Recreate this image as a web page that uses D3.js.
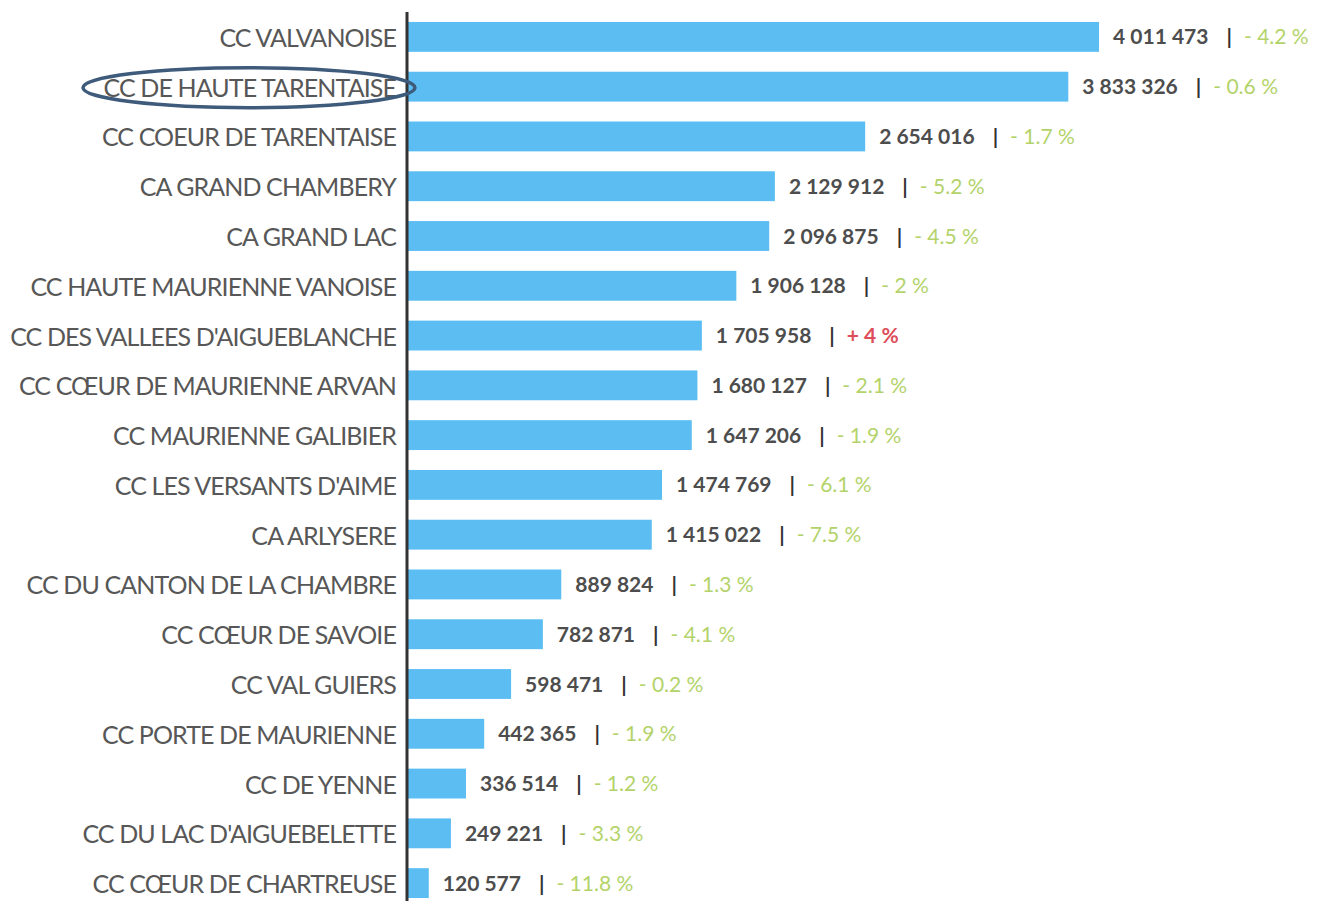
<!DOCTYPE html>
<html>
<head>
<meta charset="utf-8">
<script src="https://cdn.jsdelivr.net/npm/d3@7"></script>
<style>
  body { margin: 0; background: #fff; }
  svg { display: block; }
</style>
</head>
<body>
<div id="chart"></div>
<script>
// population / nuitees par intercommunalite, evolution en %
const categories = [
  "CC VALVANOISE",
  "CC DE HAUTE TARENTAISE",
  "CC COEUR DE TARENTAISE",
  "CA GRAND CHAMBERY",
  "CA GRAND LAC",
  "CC HAUTE MAURIENNE VANOISE",
  "CC DES VALLEES D'AIGUEBLANCHE",
  "CC CŒUR DE MAURIENNE ARVAN",
  "CC MAURIENNE GALIBIER",
  "CC LES VERSANTS D'AIME",
  "CA ARLYSERE",
  "CC DU CANTON DE LA CHAMBRE",
  "CC CŒUR DE SAVOIE",
  "CC VAL GUIERS",
  "CC PORTE DE MAURIENNE",
  "CC DE YENNE",
  "CC DU LAC D'AIGUEBELETTE",
  "CC CŒUR DE CHARTREUSE"
];
const values = [4011473, 3833326, 2654016, 2129912, 2096875, 1906128, 1705958, 1680127,
  1647206, 1474769, 1415022, 889824, 782871, 598471, 442365, 336514, 249221, 120577];
const changes = ["- 4.2 %", "- 0.6 %", "- 1.7 %", "- 5.2 %", "- 4.5 %", "- 2 %", "+ 4 %", "- 2.1 %",
  "- 1.9 %", "- 6.1 %", "- 7.5 %", "- 1.3 %", "- 4.1 %", "- 0.2 %", "- 1.9 %", "- 1.2 %", "- 3.3 %", "- 11.8 %"];
const highlighted = "CC DE HAUTE TARENTAISE";

const width = 1324;
const height = 901;
const axisX = 407;

const fmt = d => d3.format(",")(d).replace(/,/g, " ");

var svg = d3.select("#chart")
  .append("svg")
    .attr("width", width)
    .attr("height", height);

var x = d3.scaleLinear([0, d3.max(values)], [axisX + 1, 1099]);
var y = d3.scaleBand(categories, [12, 908])
  .paddingInner(0.4)
  .paddingOuter(0.2);

var rows = categories.map((c, i) => ({ name: c, value: values[i], change: changes[i] }));

// bars
svg.selectAll("rect.bar")
  .data(rows)
  .join("rect")
  .attr("class", "bar")
  .attr("x", x(0))
  .attr("y", d => y(d.name))
  .attr("width", d => x(d.value) - x(0))
  .attr("height", y.bandwidth())
  .attr("fill", "#5bbdf2");

// category labels
svg.selectAll("text.cat")
  .data(rows)
  .join("text")
  .attr("class", "cat")
  .attr("x", axisX - 11)
  .attr("y", d => y(d.name) + y.bandwidth() / 2 + 1)
  .attr("dy", "0.36em")
  .attr("text-anchor", "end")
  .style("font-family", "Lato, sans-serif")
  .style("font-size", "25px")
  .style("letter-spacing", "-0.9px")
  .attr("fill", "#575757")
  .text(d => d.name);

// value labels
var lab = svg.selectAll("text.val")
  .data(rows)
  .join("text")
  .attr("class", "val")
  .attr("x", d => x(d.value) + 14)
  .attr("y", d => y(d.name) + y.bandwidth() / 2)
  .attr("dy", "0.36em")
  .style("font-family", "Lato, sans-serif")
  .style("font-size", "21px")
  .style("font-weight", "bold");

lab.append("tspan")
  .attr("fill", "#4d4d4d")
  .text(d => fmt(d.value));
lab.append("tspan")
  .attr("dx", 18)
  .attr("fill", "#333")
  .text("|");
lab.append("tspan")
  .attr("dx", 12)
  .style("font-weight", d => d.change[0] == "+" ? "bold" : "normal")
  .attr("fill", d => d.change[0] == "+" ? "#dd4e5a" : "#b3d36a")
  .text(d => d.change);

// axis line
svg.append("line")
  .attr("x1", axisX).attr("x2", axisX)
  .attr("y1", 12).attr("y2", height)
  .attr("stroke", "#333")
  .attr("stroke-width", 3);

// circled label
svg.append("ellipse")
  .attr("cx", 249)
  .attr("cy", y(highlighted) + y.bandwidth() / 2 + 1)
  .attr("rx", 166)
  .attr("ry", 20)
  .attr("fill", "none")
  .attr("stroke", "#3f5b7c")
  .attr("stroke-width", 3.5);
</script>
</body>
</html>
